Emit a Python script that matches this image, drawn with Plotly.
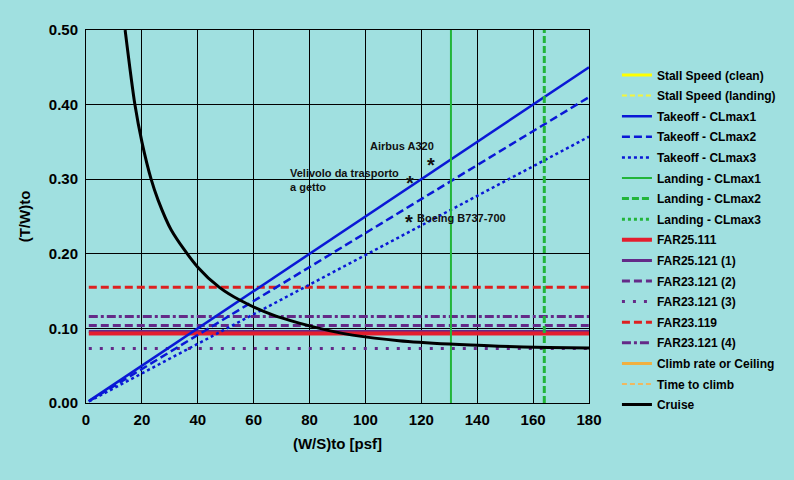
import plotly.graph_objects as go

# ---------------- data ----------------
ws_line = [1, 180]
takeoff_cl1 = [0.0025, 0.45]
takeoff_cl2 = [0.0023, 0.41]
takeoff_cl3 = [0.0020, 0.357]

landing_cl1_ws = 130.6
landing_cl2_ws = 164.0
tw_range = [0.0, 0.5]

far25_111 = 0.093
far25_121_1 = 0.096
far23_121_2 = 0.104
far23_121_3 = 0.073
far23_119 = 0.155
far23_121_4 = 0.116

cruise_ws = [14.0, 17.5, 20.0, 23.3, 25.8, 30.5, 40.0, 47.75, 55.0, 66.8, 76.3,
             87.0, 95.4, 112.0, 130.0, 147.8, 165.6, 180.0]
cruise_tw = [0.50, 0.40, 0.35, 0.30, 0.272, 0.232, 0.182, 0.155, 0.138, 0.118, 0.107,
             0.097, 0.091, 0.0835, 0.079, 0.0762, 0.0744, 0.0736]

aircraft_names = ["Airbus A320", "Velivolo da trasporto<br>a getto", "Boeing B737-700"]
aircraft_ws = [123.4, 115.8, 115.6]
aircraft_tw = [0.326, 0.302, 0.249]

x_ticks = [0, 20, 40, 60, 80, 100, 120, 140, 160, 180]
y_ticks = [0.0, 0.1, 0.2, 0.3, 0.4, 0.5]

# ---------------- styles ----------------
BG = "#A0E0E0"
FONT = "Liberation Sans, Arial, sans-serif"
BLUE = "#0A18D6"
GREEN = "#22B53A"
RED = "#E41E2E"
RED2 = "#DD2020"
PURPLE = "#642A88"

fig = go.Figure()


def add(name, x, y, color, width, dash="solid", rank=0):
    fig.add_trace(go.Scatter(
        x=x, y=y, mode="lines", name=name, legendgroup=name, legendrank=rank,
        line=dict(color=color, width=width, dash=dash), hoverinfo="skip"))


add("Stall Speed (clean)", [None], [None], "#FFFF00", 3, rank=1)
add("Stall Speed (landing)", [None], [None], "#F4F43C", 2, "5px,3px", rank=2)
add("FAR25.121 (1)", [ws_line[0], ws_line[1]], [far25_121_1] * 2, PURPLE, 3, rank=11)
add("FAR25.111", [ws_line[0], ws_line[1]], [far25_111] * 2, RED, 4, rank=10)
add("FAR23.121 (2)", [ws_line[0], ws_line[1]], [far23_121_2] * 2, PURPLE, 3, "8px,4px", rank=12)
add("FAR23.121 (3)", [ws_line[0], ws_line[1]], [far23_121_3] * 2, PURPLE, 3, "3px,8px", rank=13)
add("FAR23.119", [ws_line[0], ws_line[1]], [far23_119] * 2, RED2, 3, "8px,4px", rank=14)
add("FAR23.121 (4)", [ws_line[0], ws_line[1]], [far23_121_4] * 2, PURPLE, 3, "9px,3px,3px,3px", rank=15)
add("Takeoff - CLmax1", ws_line, takeoff_cl1, BLUE, 2.5, rank=3)
add("Takeoff - CLmax2", ws_line, takeoff_cl2, BLUE, 2.5, "8px,4px", rank=4)
add("Takeoff - CLmax3", ws_line, takeoff_cl3, BLUE, 2.5, "3px,3px", rank=5)
add("Landing - CLmax1", [landing_cl1_ws] * 2, tw_range, GREEN, 2, rank=6)
add("Landing - CLmax2", [landing_cl2_ws] * 2, tw_range, GREEN, 3, "7px,3px", rank=7)
add("Landing - CLmax3", [None], [None], GREEN, 3, "3px,3px", rank=8)
add("Climb rate or Ceiling", [None], [None], "#F0B040", 3, rank=16)
add("Time to climb", [None], [None], "#F0B860", 2, "5px,3px", rank=17)
fig.add_trace(go.Scatter(
    x=cruise_ws, y=cruise_tw, mode="lines", name="Cruise", legendgroup="Cruise",
    legendrank=18, line=dict(color="black", width=3, shape="spline", smoothing=0.8),
    hoverinfo="skip"))

# aircraft stars (asterisk glyph, shifted so the glyph centre sits on the point)
for xv, yv in zip(aircraft_ws, aircraft_tw):
    fig.add_annotation(x=xv, y=yv, text="*", showarrow=False, yshift=-5,
                       font=dict(family=FONT, size=20, color="#111111", weight="bold"))

label_cfg = [
    dict(xanchor="right", yanchor="bottom", xshift=5, yshift=6, align="left"),
    dict(xanchor="right", yanchor="middle", xshift=-9, yshift=-2, align="left"),
    dict(xanchor="left", yanchor="middle", xshift=6, yshift=-1, align="left"),
]
for name, xv, yv, cfg in zip(aircraft_names, aircraft_ws, aircraft_tw, label_cfg):
    fig.add_annotation(x=xv, y=yv, text=name, showarrow=False,
                       font=dict(family=FONT, size=11, color="#111111", weight="bold"),
                       **cfg)

axis_common = dict(showline=True, mirror=True, linecolor="black", linewidth=1,
                   showgrid=True, gridcolor="black", gridwidth=1, zeroline=False,
                   ticks="", tickfont=dict(family=FONT, size=15, color="black", weight="bold"))

fig.update_xaxes(range=[0, 180], tickvals=x_ticks,
                 title=dict(text="(W/S)to [psf]", standoff=11,
                            font=dict(family=FONT, size=15, color="black", weight="bold")),
                 ticklabelstandoff=3, **axis_common)
fig.update_yaxes(range=[0, 0.5], tickvals=y_ticks, tickformat=".2f",
                 title=dict(text="(T/W)to", standoff=14,
                            font=dict(family=FONT, size=15, color="black", weight="bold")),
                 ticklabelstandoff=4, **axis_common)

fig.update_layout(
    width=794, height=480,
    paper_bgcolor=BG, plot_bgcolor=BG,
    margin=dict(l=86, r=205, t=30, b=77, autoexpand=False),
    showlegend=True,
    legend=dict(xref="container", yref="container", x=0.777, y=0.874,
                xanchor="left", yanchor="top", bgcolor="rgba(0,0,0,0)",
                font=dict(family=FONT, size=12, color="black", weight="bold"),
                itemwidth=30, tracegroupgap=1.6, traceorder="grouped", maxheight=460),
    font=dict(family=FONT),
)

fig.write_html("out.html", post_script="document.body.style.margin='0';",
               config={"displayModeBar": False})
